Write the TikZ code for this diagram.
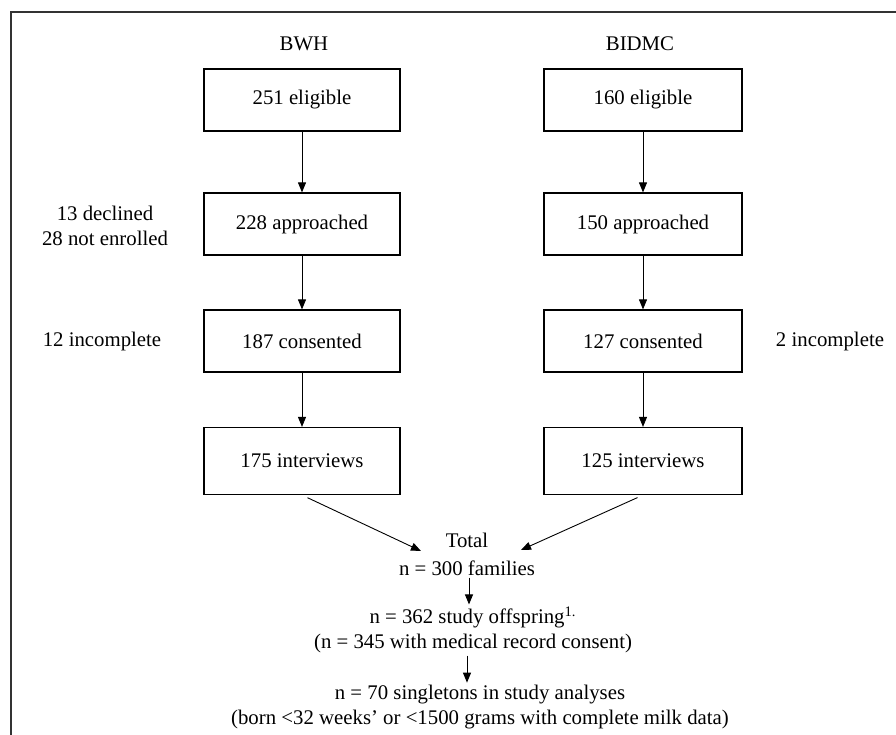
\documentclass[tikz,border=0pt]{standalone}
\usepackage{fontspec}
\setmainfont{Liberation Serif}
\usetikzlibrary{arrows.meta, positioning}

\begin{document}
\begin{tikzpicture}[x=0.5pt, y=-0.5pt,
    every node/.style={font=\fontsize{10.4}{12.5}\selectfont},
    stagebox/.style={draw, line width=0.6pt, minimum width=98pt, minimum height=31pt, inner sep=0},
    plain/.style={align=center, inner sep=1pt},
    arr/.style={-{Triangle[length=5pt, width=4pt]}, line width=0.45pt}]
      \useasboundingbox (0,0) rectangle (896,735);
      \draw [line width=0.7pt, black!80] (11,735) -- (11,12) -- (896,12);

      \node [plain] (bwh) at (304,44) {BWH};
      \node [plain] (bidmc) at (640,44) {BIDMC};

      \node [stagebox] (e1) at (302,100) {251 eligible};
      \node [stagebox] (a1) at (302,224) {228 approached};
      \node [stagebox] (c1) at (302,341) {187 consented};
      \node [stagebox, minimum height=33.5pt] (i1) at (302,461) {175 interviews};

      \node [stagebox, minimum width=99pt] (e2) at (643,100) {160 eligible};
      \node [stagebox, minimum width=99pt] (a2) at (643,224) {150 approached};
      \node [stagebox, minimum width=99pt] (c2) at (643,341) {127 consented};
      \node [stagebox, minimum width=99pt, minimum height=33.5pt] (i2) at (643,461) {125 interviews};

      \node [plain] (lost1) at (105,226) {13 declined\\28 not enrolled};
      \node [plain] (inc1) at (102,341) {12 incomplete};
      \node [plain] (inc2) at (830,341) {2 incomplete};

      \draw [arr] (e1) -- (a1);
      \draw [arr] (a1) -- (c1);
      \draw [arr] (c1) -- (i1);
      \draw [arr] (e2) -- (a2);
      \draw [arr] (a2) -- (c2);
      \draw [arr] (c2) -- (i2);

      \node [plain] (tot) at (467,554) {Total\\[1.5pt]n = 300 families};
      \coordinate (tl) at (421,551);
      \coordinate (tr) at (521,550);
      \draw [arr, shorten <=3pt] (i1.south) -- (tl);
      \draw [arr, shorten <=3pt] (i2.south) -- (tr);

      \node [plain] (off) at (473,630) {n = 362 study offspring\textsuperscript{1.}\\(n = 345 with medical record consent)};
      \node [plain] (sgl) at (480,707) {n = 70 singletons in study analyses\\(born <32 weeks’ or <1500 grams with complete milk data)};

      \draw [arr] (tot.south -| 469,0) -- (off.north -| 469,0);
      \draw [arr] (off.south -| 467,0) -- (sgl.north -| 467,0);
    \end{tikzpicture}
\end{document}
